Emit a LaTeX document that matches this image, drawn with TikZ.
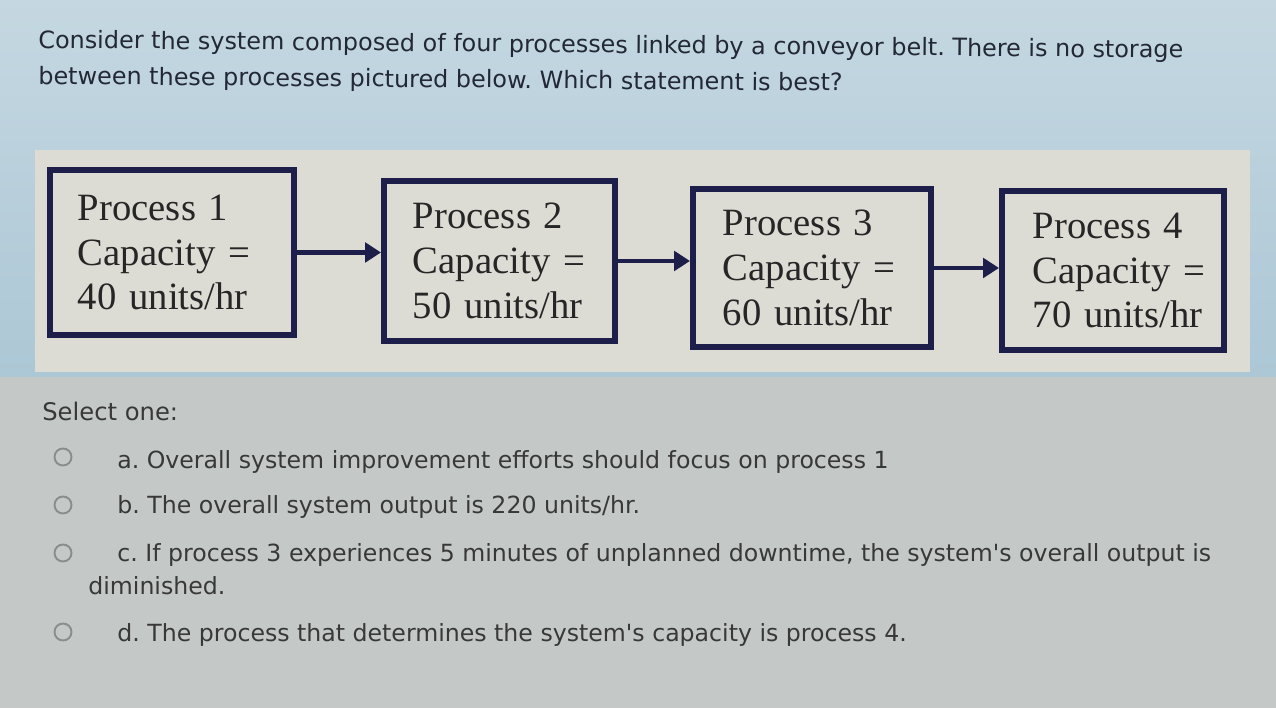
\documentclass[tikz,border=0pt]{standalone}
\usepackage{fontspec}
\setmainfont{Liberation Serif}
\newfontfamily\uifont{DejaVu Sans}
\usetikzlibrary{arrows.meta}
\frenchspacing

\definecolor{screenblue}{HTML}{ACC7D5}
\definecolor{screengray}{HTML}{C4C9C7}
\definecolor{panelgray}{HTML}{DDDCD4}
\definecolor{boxnavy}{HTML}{1E1E4A}
\definecolor{inkgray}{HTML}{232836}

\tikzset{
	procbox/.style={draw=boxnavy, line width=3.4pt, fill=panelgray, anchor=north west, align=left, inner ysep=0pt, text=black!85, font=\fontsize{22}{25.5}\selectfont},
	flow/.style={draw=boxnavy, line width=2.4pt, -{Triangle[length=9pt, width=11pt]}},
	question/.style={anchor=base west, inner sep=0pt, text=inkgray, font=\uifont\fontsize{13.6}{16}\selectfont},
	choice/.style={anchor=base west, inner sep=0pt, text=black!78, font=\uifont\fontsize{13.45}{15}\selectfont},
	radio/.style={circle, draw=black!45, line width=1.1pt, minimum size=0.34cm, inner sep=0pt},
}

\begin{document}
\begin{tikzpicture}[x=0.02cm, y=-0.02cm]
	\useasboundingbox (0,0) rectangle (1276,708);
	
	% Screen background
	\fill[screengray] (0,0) rectangle (1276,708);
	\shade[top color=screenblue!70!white, bottom color=screenblue] (0,0) rectangle (1276,376);
	\fill[panelgray] (35,150) rectangle (1250,372);
	
	% Question
	\node[question, rotate=-0.5] (q1) at (38,48) {Consider the system composed of four processes linked by a conveyor belt. There is no storage};
	\node[question, rotate=-0.5] (q2) at (38,84) {between these processes pictured below. Which statement is best?};
	
	% Processes
	\node[procbox, text width=3.76cm, inner xsep=0.56cm, minimum height=3.3cm] (p1) at (47,167) {Process~1\\Capacity~=\\40~units/hr};
	\node[procbox, text width=3.46cm, inner xsep=0.58cm, minimum height=3.2cm] (p2) at (381,178) {Process~2\\Capacity~=\\50~units/hr};
	\node[procbox, text width=3.56cm, inner xsep=0.60cm, minimum height=3.16cm] (p3) at (690,186) {Process~3\\Capacity~=\\60~units/hr};
	\node[procbox, text width=3.20cm, inner xsep=0.62cm, minimum height=3.18cm] (p4) at (999,188) {Process~4\\Capacity~=\\70~units/hr};
	
	% Conveyor belt
	\draw[flow] (p1.east) -- (p1.east -| p2.west);
	\draw[flow] (p2.east) -- (p2.east -| p3.west);
	\draw[flow] (p3.east) -- (p3.east -| p4.west);
	
	% Answers
	\node[choice, font=\uifont\fontsize{13.8}{15}\selectfont] (sel) at (42,420) {Select one:};
	\node[radio] (ra) at (63,457) {};
	\node[radio] (rb) at (63,505) {};
	\node[radio] (rc) at (63,553) {};
	\node[radio] (rd) at (63,632) {};
	\node[choice] (ca) at (117,468) {a. Overall system improvement efforts should focus on process 1};
	\node[choice] (cb) at (117,513) {b. The overall system output is 220 units/hr.};
	\node[choice] (cc) at (117,561) {c. If process 3 experiences 5 minutes of unplanned downtime, the system's overall output is};
	\node[choice] (cc2) at (88,594) {diminished.};
	\node[choice] (cd) at (117,641) {d. The process that determines the system's capacity is process 4.};
\end{tikzpicture}
\end{document}
